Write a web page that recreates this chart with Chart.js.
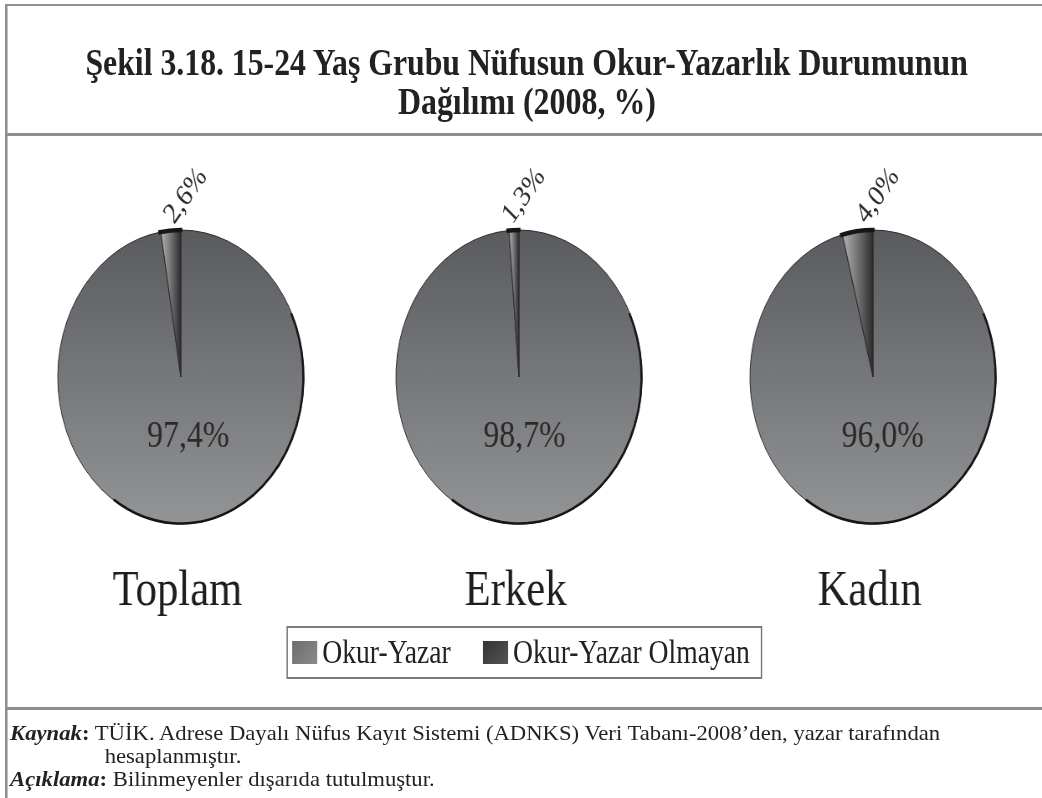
<!DOCTYPE html>
<html><head><meta charset="utf-8">
<script src="https://cdn.jsdelivr.net/npm/chart.js@4.4.0/dist/chart.umd.min.js"></script>
<style>
html,body{margin:0;padding:0;background:#fff;width:1042px;height:798px;overflow:hidden;}
#page{position:absolute;left:0;top:0;width:1245px;height:798px;transform:scaleX(0.837);transform-origin:0 0;font-family:"Liberation Serif","Times New Roman",serif;color:#222;}
.line{position:absolute;background:#8e8e8e;}
.row{position:absolute;white-space:nowrap;line-height:1;}
.c{text-align:center;}
.fit{display:inline-block;white-space:nowrap;}
canvas{position:absolute;}
#legend{position:absolute;left:342px;top:626px;width:569px;height:53px;border:2px solid #7a7a7a;box-sizing:border-box;}
.lg{position:absolute;top:0;height:49px;display:flex;align-items:center;font-size:33px;color:#222;}
.sw{display:inline-block;width:30px;height:23px;margin-right:6px;}
</style></head><body>
<div id="page">
  <div class="line" style="left:6px;top:4px;width:1239px;height:2px"></div>
  <div class="line" style="left:6px;top:4px;width:3px;height:794px"></div>
  <div class="line" style="left:6px;top:133px;width:1239px;height:3px"></div>
  <div class="line" style="left:6px;top:707px;width:1239px;height:3px"></div>

  <div class="row c" style="left:0;width:1259px;top:44px;font-size:37px;font-weight:bold;"><span class="fit" data-w="882" style="transform-origin:50% 50%">Şekil 3.18. 15-24 Yaş Grubu Nüfusun Okur-Yazarlık Durumunun</span></div>
  <div class="row c" style="left:0;width:1259px;top:83px;font-size:37px;font-weight:bold;"><span class="fit" data-w="258" style="transform-origin:50% 50%">Dağılımı (2008, %)</span></div>

  <canvas id="c0" width="380" height="470"></canvas>
  <canvas id="c1" width="380" height="470"></canvas>
  <canvas id="c2" width="380" height="470"></canvas>

  <div id="legend"></div>

  <div class="row" style="left:12px;top:723px;font-size:21px;"><span class="foot" id="f1" style="display:inline-block;transform-origin:0 50%"><b><i>Kaynak</i>:</b> TÜİK. Adrese Dayalı Nüfus Kayıt Sistemi (ADNKS) Veri Tabanı-2008’den, yazar tarafından</span></div>
  <div class="row" style="left:125px;top:746px;font-size:21px;"><span class="foot" style="display:inline-block;transform-origin:0 50%">hesaplanmıştır.</span></div>
  <div class="row" style="left:12px;top:769px;font-size:21px;"><span class="foot" style="display:inline-block;transform-origin:0 50%"><b><i>Açıklama</i>:</b> Bilinmeyenler dışarıda tutulmuştur.</span></div>
</div>
<script>
// ---- data ----
const categories = ['Toplam', 'Erkek', 'Kadın'];
const seriesNames = ['Okur-Yazar', 'Okur-Yazar Olmayan'];
const okurYazar = [97.4, 98.7, 96.0];
const okurYazarOlmayan = [2.6, 1.3, 4.0];

// ---- layout (unsquished page coordinates) ----
const S = 0.837;
const pieCentersX = [216, 620, 1043];
const canvasTop = 160, canvasW = 380, canvasH = 470;
const R = 147;

document.querySelectorAll('.fit').forEach(el => {
  const target = parseFloat(el.dataset.w) / S;
  const k = target / el.offsetWidth;
  el.style.transform = 'scaleX(' + k + ')';
});
// footnote: one common horizontal scale, taken from the first line
const f1 = document.getElementById('f1');
const footK = (930 / S) / f1.offsetWidth;
document.querySelectorAll('.foot').forEach(el => { el.style.transform = 'scaleX(' + footK + ')'; });

const fmt = v => v.toFixed(1).replace('.', ',') + '%';

function fillFor(c) {
  const ch = c.chart;
  const ca = ch.chartArea;
  if (!ca || c.dataIndex === undefined) return c.dataIndex === 1 ? '#3c3c3c' : '#77787a';
  const cx = (ca.left + ca.right) / 2, cy = (ca.top + ca.bottom) / 2;
  const ctx = ch.ctx;
  if (c.dataIndex === 0) {
    const g = ctx.createLinearGradient(0, cy - R, 0, cy + R);
    g.addColorStop(0, '#5a5b5e');
    g.addColorStop(1, '#939496');
    return g;
  }
  const vals = ch.data.datasets[0].data;
  const p = vals[1] / (vals[0] + vals[1]);
  const w = Math.max(R * Math.sin(2 * Math.PI * p), 4);
  const g = ctx.createLinearGradient(cx - w, 0, cx, 0);
  g.addColorStop(0, '#b4b4b4');
  g.addColorStop(0.45, '#7a7a7a');
  g.addColorStop(1, '#2c2c2c');
  return g;
}

const deco = {
  id: 'deco',
  afterDatasetsDraw(chart) {
    const ctx = chart.ctx;
    const meta = chart.getDatasetMeta(0);
    const a0 = meta.data[0], a1 = meta.data[1];
    const cx = a0.x, cy = a0.y, r = a0.outerRadius;
    ctx.save();
    ctx.strokeStyle = '#161616';
    ctx.lineWidth = 2.6;
    ctx.beginPath(); ctx.arc(cx, cy, r - 0.5, -0.45, 2.15); ctx.stroke();
    ctx.lineWidth = 4.5;
    ctx.beginPath(); ctx.arc(cx, cy, r, a1.startAngle - 0.02, a1.endAngle + 0.012); ctx.stroke();
    ctx.restore();
  },
  afterDraw(chart) {
    const ctx = chart.ctx;
    const meta = chart.getDatasetMeta(0);
    const a0 = meta.data[0], a1 = meta.data[1];
    const cx = a0.x, cy = a0.y, r = a0.outerRadius;
    const vals = chart.data.datasets[0].data;
    ctx.save();
    ctx.fillStyle = '#2a2a2a';
    ctx.textAlign = 'center';
    ctx.textBaseline = 'middle';
    // inner label
    const m = (a0.startAngle + a0.endAngle) / 2;
    ctx.font = '38px "Liberation Serif", serif';
    ctx.fillText(fmt(vals[0]), cx + Math.cos(m) * 0.41 * r + 4, cy + Math.sin(m) * 0.41 * r);
    // outer rotated label
    ctx.save();
    ctx.translate(cx + 6, cy - r - 34);
    ctx.rotate(-50 * Math.PI / 180);
    ctx.font = '30px "Liberation Serif", serif';
    ctx.fillText(fmt(vals[1]), 0, 0);
    ctx.restore();
    // category label
    ctx.fillStyle = '#1e1e1e';
    ctx.font = '51px "Liberation Serif", serif';
    ctx.fillText(chart.data.categoryName, cx - 4, cy + r + 68);
    ctx.restore();
  }
};

categories.forEach((cat, i) => {
  const cv = document.getElementById('c' + i);
  cv.style.left = (pieCentersX[i] - canvasW / 2) + 'px';
  cv.style.top = canvasTop + 'px';
  const data = {
    labels: seriesNames,
    categoryName: cat,
    datasets: [{
      data: [okurYazar[i], okurYazarOlmayan[i]],
      backgroundColor: fillFor,
      borderColor: '#2a2a2a',
      borderWidth: 1
    }]
  };
  new Chart(cv, {
    type: 'pie',
    data: data,
    options: {
      responsive: false,
      animation: false,
      radius: R,
      layout: { padding: { top: 0, bottom: canvasH - 2 * 217, left: 0, right: 0 } },
      plugins: { legend: { display: false }, tooltip: { enabled: false } }
    },
    plugins: [deco]
  });
});

// legend from series
const legendColors = [['#6b6c6e', '#8a8b8d'], ['#333333', '#555555']];
const legendX = [5, 233];
const lg = document.getElementById('legend');
seriesNames.forEach((n, i) => {
  const d = document.createElement('div');
  d.className = 'lg';
  d.style.left = legendX[i] + 'px';
  const sw = document.createElement('span');
  sw.className = 'sw';
  sw.style.background = 'linear-gradient(135deg,' + legendColors[i][0] + ',' + legendColors[i][1] + ')';
  d.appendChild(sw);
  d.appendChild(document.createTextNode(n));
  lg.appendChild(d);
});
</script>
</body></html>
